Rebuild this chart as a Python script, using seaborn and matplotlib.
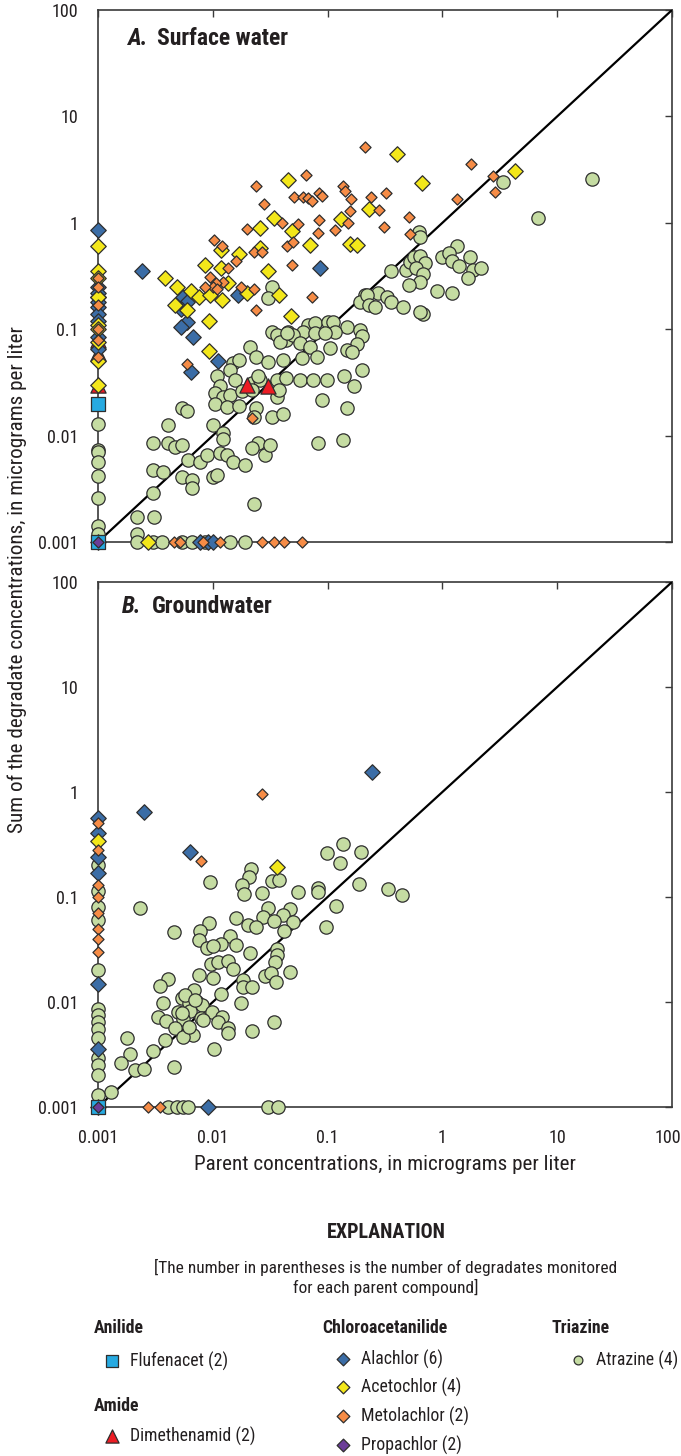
import matplotlib
matplotlib.use("Agg")
import matplotlib.pyplot as plt
from matplotlib import font_manager as fm
from matplotlib.transforms import ScaledTranslation
import pandas as pd
import seaborn as sns

# ---------------------------------------------------------------------------
# Parent concentration vs. sum of degradate concentrations (micrograms per liter)
# Non-detects are plotted at the 0.001 reporting floor.
# ---------------------------------------------------------------------------

# ---- A. Surface water ------------------------------------------------------
sw_atrazine = [
    (20, 2.6), (6.8, 1.1), (3.4, 2.4), (0.63, 0.82), (0.64, 0.74), (1.34, 0.6),
    (1.0, 0.48), (1.14, 0.52), (1.21, 0.44), (1.4, 0.39), (1.74, 0.48), (1.85, 0.36),
    (2.17, 0.38), (1.67, 0.30), (0.9, 0.23), (1.21, 0.22), (0.36, 0.35), (0.48, 0.36),
    (0.52, 0.43), (0.57, 0.48), (0.64, 0.49), (0.71, 0.42), (0.59, 0.38), (0.68, 0.33),
    (0.64, 0.28), (0.51, 0.26), (0.275, 0.22), (0.33, 0.2), (0.21, 0.21),
    (0.19, 0.18), (0.22, 0.21), (0.36, 0.18), (0.23, 0.17), (0.26, 0.16), (0.45, 0.16),
    (0.68, 0.14), (0.148, 0.105), (0.19, 0.098), (0.2, 0.086), (0.18, 0.073),
    (0.148, 0.064), (0.163, 0.061), (0.14, 0.036), (0.2, 0.041), (0.17, 0.029),
    (0.148, 0.018), (0.136, 0.009), (0.64, 0.145),
    (0.0675, 0.11), (0.078, 0.114), (0.1, 0.117), (0.111, 0.117), (0.033, 0.25),
    (0.030, 0.196), (0.033, 0.094), (0.036, 0.088), (0.045, 0.094), (0.061, 0.094),
    (0.078, 0.092), (0.116, 0.094),
    (0.043, 0.079), (0.05, 0.088), (0.0575, 0.074), (0.07, 0.068), (0.105, 0.067),
    (0.021, 0.068), (0.024, 0.055), (0.030, 0.049), (0.041, 0.051), (0.06, 0.054),
    (0.081, 0.055), (0.015, 0.048), (0.017, 0.051), (0.014, 0.041), (0.0156, 0.033),
    (0.0109, 0.036), (0.0116, 0.029), (0.0105, 0.025), (0.0123, 0.023), (0.014, 0.024),
    (0.022, 0.031), (0.026, 0.033), (0.036, 0.033), (0.043, 0.035), (0.0575, 0.033),
    (0.075, 0.033), (0.099, 0.033), (0.089, 0.0216), (0.0105, 0.020), (0.0133, 0.0186),
    (0.017, 0.019), (0.024, 0.018), (0.033, 0.015), (0.041, 0.016), (0.0054, 0.018),
    (0.006, 0.017), (0.0041, 0.0126), (0.01, 0.0126), (0.0123, 0.0106), (0.003, 0.0085),
    (0.0041, 0.0085), (0.0047, 0.0078), (0.0054, 0.0082), (0.0061, 0.0059),
    (0.0077, 0.0056), (0.0089, 0.0066), (0.0116, 0.0069), (0.0133, 0.0066),
    (0.015, 0.0056), (0.019, 0.0053), (0.025, 0.0085), (0.0285, 0.0066),
    (0.0315, 0.0082), (0.0825, 0.0085), (0.003, 0.0047), (0.0037, 0.0045),
    (0.0054, 0.0041), (0.0066, 0.0038), (0.0066, 0.0032), (0.01, 0.0041),
    (0.0109, 0.0043), (0.003, 0.0029), (0.023, 0.0023), (0.0022, 0.0017),
    (0.0031, 0.0017), (0.0022, 0.0012),
    (0.0385, 0.076), (0.044, 0.092), (0.095, 0.092), (0.025, 0.036), (0.018, 0.026),
    (0.022, 0.027), (0.023, 0.015), (0.036, 0.023), (0.038, 0.027), (0.0123, 0.0093),
    (0.022, 0.0076),
    # parent not detected
    (0.001, 0.0128), (0.001, 0.0074), (0.001, 0.007), (0.001, 0.0056), (0.001, 0.0042),
    (0.001, 0.0026), (0.001, 0.0014), (0.001, 0.0012),
    # degradates not detected
    (0.0022, 0.001), (0.003, 0.001), (0.0036, 0.001), (0.0054, 0.001), (0.0066, 0.001),
    (0.0086, 0.001), (0.0141, 0.001), (0.019, 0.001),
]
sw_alachlor = [
    (0.0024, 0.35), (0.086, 0.38), (0.0166, 0.21), (0.0055, 0.2), (0.006, 0.18),
    (0.0053, 0.155), (0.006, 0.117), (0.0053, 0.104), (0.0067, 0.084), (0.011, 0.05),
    (0.0064, 0.04),
    (0.001, 0.85), (0.001, 0.25), (0.001, 0.22), (0.001, 0.2), (0.001, 0.18),
    (0.001, 0.16), (0.001, 0.14), (0.001, 0.12), (0.001, 0.085), (0.001, 0.065),
    (0.001, 0.001),
    (0.0077, 0.001), (0.009, 0.001), (0.01, 0.001),
]
sw_acetochlor = [
    (0.40, 4.4), (0.045, 2.5), (0.66, 2.35), (0.034, 1.1), (0.026, 0.9), (0.049, 0.84),
    (0.13, 1.09), (0.23, 1.35), (0.07, 0.62), (0.157, 0.63), (0.18, 0.62),
    (0.0117, 0.55), (0.017, 0.51), (0.026, 0.58), (0.0085, 0.4), (0.0117, 0.38),
    (0.030, 0.35), (0.0038, 0.3), (0.0049, 0.25), (0.0065, 0.23), (0.0076, 0.2),
    (0.0095, 0.21), (0.012, 0.19), (0.0135, 0.27), (0.02, 0.22), (0.038, 0.21),
    (0.0047, 0.17), (0.006, 0.15), (0.0093, 0.12), (0.048, 0.133), (0.0092, 0.062),
    (4.3, 3.07),
    (0.001, 0.6), (0.001, 0.35), (0.001, 0.3), (0.001, 0.2), (0.001, 0.11),
    (0.001, 0.1), (0.001, 0.075), (0.001, 0.05), (0.001, 0.03),
    (0.0027, 0.001),
]
sw_metolachlor = [
    (0.21, 5.2), (0.065, 2.8), (0.024, 2.2), (0.136, 2.2), (0.051, 1.75), (0.061, 1.75),
    (0.067, 1.7), (0.073, 1.6), (0.085, 1.9), (0.09, 1.8), (0.142, 2.0), (0.16, 1.66),
    (0.24, 1.75), (0.32, 1.9), (0.028, 1.5), (0.084, 1.07), (0.055, 0.98), (0.04, 1.0),
    (0.15, 1.0), (0.157, 1.28), (0.28, 1.32), (0.51, 1.13), (0.116, 0.86), (0.082, 0.8),
    (0.31, 0.91), (0.52, 0.79), (0.02, 0.87), (0.0102, 0.69), (0.012, 0.6), (0.044, 0.6),
    (0.05, 0.66), (0.023, 0.53), (0.027, 0.53), (0.016, 0.44), (0.0135, 0.38),
    (0.049, 0.4), (0.0095, 0.31), (0.0123, 0.28), (0.0106, 0.27), (0.01, 0.25),
    (0.0085, 0.25), (0.0176, 0.25), (0.023, 0.24), (0.0108, 0.24), (0.073, 0.2),
    (0.024, 0.15), (0.006, 0.047), (0.022, 0.0145), (1.77, 3.6), (2.75, 2.75),
    (2.9, 1.95), (1.34, 1.67),
    (0.001, 0.3), (0.001, 0.25), (0.001, 0.17), (0.001, 0.1), (0.001, 0.08),
    (0.001, 0.055),
    (0.0046, 0.001), (0.0052, 0.001), (0.0082, 0.001), (0.0115, 0.001), (0.027, 0.001),
    (0.034, 0.001), (0.042, 0.001), (0.06, 0.001),
]
sw_dimethenamid = [(0.020, 0.030), (0.030, 0.029), (0.001, 0.08), (0.001, 0.06), (0.001, 0.03)]
sw_flufenacet = [(0.001, 0.02), (0.001, 0.001)]
sw_propachlor = [(0.001, 0.001)]

# ---- B. Groundwater ----------------------------------------------------------
gw_atrazine = [
    (0.136, 0.32), (0.099, 0.26), (0.196, 0.27), (0.127, 0.21), (0.0215, 0.185),
    (0.0207, 0.155), (0.018, 0.13), (0.0187, 0.107), (0.0328, 0.142), (0.0377, 0.145),
    (0.0268, 0.109), (0.0094, 0.139), (0.055, 0.112), (0.0825, 0.122), (0.0825, 0.112),
    (0.188, 0.133), (0.336, 0.119), (0.445, 0.104), (0.118, 0.082), (0.097, 0.052),
    (0.0023, 0.078), (0.0303, 0.078), (0.0273, 0.065), (0.047, 0.077), (0.041, 0.067),
    (0.05, 0.058), (0.034, 0.059), (0.0418, 0.047), (0.0203, 0.054), (0.0239, 0.052),
    (0.0159, 0.063), (0.0093, 0.056), (0.0046, 0.046), (0.0077, 0.047), (0.0076, 0.039),
    (0.0141, 0.0425), (0.0118, 0.0357), (0.0159, 0.035), (0.0089, 0.0327), (0.01, 0.034),
    (0.021, 0.029), (0.0362, 0.032), (0.0362, 0.028), (0.0348, 0.024), (0.0096, 0.023),
    (0.0111, 0.024), (0.0136, 0.0246), (0.015, 0.0206), (0.047, 0.0193), (0.0285, 0.0177),
    (0.032, 0.0189), (0.0355, 0.0155), (0.0076, 0.018), (0.01, 0.0169), (0.0041, 0.0166),
    (0.0035, 0.0142), (0.0183, 0.0162), (0.0183, 0.0139), (0.0219, 0.0139),
    (0.0069, 0.013), (0.0118, 0.0119), (0.0176, 0.0098), (0.0037, 0.0098),
    (0.0054, 0.0109), (0.0062, 0.0098), (0.0073, 0.01), (0.008, 0.0094), (0.005, 0.008),
    (0.0063, 0.0082), (0.0079, 0.007), (0.0098, 0.008), (0.012, 0.0072), (0.0111, 0.0065),
    (0.0055, 0.0069), (0.0033, 0.0072), (0.0039, 0.0066), (0.0047, 0.0056),
    (0.0067, 0.0049), (0.0055, 0.0046), (0.0038, 0.0043), (0.0136, 0.0056),
    (0.0136, 0.0051), (0.0219, 0.0053), (0.0341, 0.0065), (0.0102, 0.0036),
    (0.003, 0.0034), (0.0018, 0.0045), (0.0019, 0.0032), (0.0016, 0.0026),
    (0.0021, 0.00225), (0.0025, 0.0023), (0.0046, 0.0024), (0.0013, 0.0014),
    (0.0057, 0.0117), (0.007, 0.0104), (0.0054, 0.0078), (0.0062, 0.0058), (0.0082, 0.0067),
    (0.001, 0.2), (0.001, 0.115), (0.001, 0.08), (0.001, 0.06), (0.001, 0.02),
    (0.001, 0.0085), (0.001, 0.0075), (0.001, 0.0065), (0.001, 0.0055), (0.001, 0.0045),
    (0.001, 0.0029), (0.001, 0.0025), (0.001, 0.002), (0.001, 0.0013),
    (0.0041, 0.001), (0.0049, 0.001), (0.0055, 0.001), (0.0061, 0.001), (0.030, 0.001),
    (0.037, 0.001),
]
gw_alachlor = [
    (0.244, 1.55), (0.0025, 0.645), (0.0063, 0.27), (0.0091, 0.001),
    (0.001, 0.565), (0.001, 0.41), (0.001, 0.24), (0.001, 0.17), (0.001, 0.015),
    (0.001, 0.0036), (0.001, 0.001),
]
gw_acetochlor = [(0.036, 0.193), (0.001, 0.34)]
gw_metolachlor = [
    (0.027, 0.96), (0.0079, 0.22), (0.0027, 0.001), (0.0035, 0.001),
    (0.001, 0.51), (0.001, 0.28), (0.001, 0.13), (0.001, 0.1), (0.001, 0.07),
    (0.001, 0.05), (0.001, 0.04), (0.001, 0.03),
]
gw_dimethenamid = []
gw_flufenacet = [(0.001, 0.001)]
gw_propachlor = [(0.001, 0.001)]

ticks = [0.001, 0.01, 0.1, 1, 10, 100]
tick_labels = ["0.001", "0.01", "0.1", "1", "10", "100"]

# ---- marker styles per parent compound (draw order = list order) --------------
EDGE = "#2e2e2e"
styles = {
    "Atrazine":     dict(marker="o", s=92,  color="#c5dca2"),
    "Dimethenamid": dict(marker="^", s=120, color="#ec1c24"),
    "Alachlor":     dict(marker="D", s=62,  color="#3b6da6"),
    "Acetochlor":   dict(marker="D", s=62,  color="#f3e71a"),
    "Metolachlor":  dict(marker="D", s=32,  color="#f68c46"),
    "Flufenacet":   dict(marker="s", s=115, color="#27aae1"),
    "Propachlor":   dict(marker="D", s=32,  color="#6b3d98"),
}

panels = {
    "A": {"Atrazine": sw_atrazine, "Alachlor": sw_alachlor, "Acetochlor": sw_acetochlor,
          "Metolachlor": sw_metolachlor, "Dimethenamid": sw_dimethenamid,
          "Flufenacet": sw_flufenacet, "Propachlor": sw_propachlor},
    "B": {"Atrazine": gw_atrazine, "Alachlor": gw_alachlor, "Acetochlor": gw_acetochlor,
          "Metolachlor": gw_metolachlor, "Dimethenamid": gw_dimethenamid,
          "Flufenacet": gw_flufenacet, "Propachlor": gw_propachlor},
}

rows = []
for panel, series in panels.items():
    for compound, pairs in series.items():
        for parent, degr in pairs:
            rows.append({"panel": panel, "compound": compound,
                         "parent": parent, "degradates": degr})
df = pd.DataFrame(rows)

sns.set_theme(style="white")

# prefer a narrow sans face when one is installed
entries_fm = fm.fontManager.ttflist
names = {f.name for f in entries_fm}
family, stretch = "DejaVu Sans", "normal"
narrow_names = [n for n in ["Liberation Sans Narrow", "Roboto Condensed", "Open Sans Condensed",
                            "Noto Sans Condensed", "Arial Narrow"] if n in names]
if narrow_names:
    family = narrow_names[0]
elif any(f.name == "DejaVu Sans" and str(f.stretch) != "normal" for f in entries_fm):
    family, stretch = "DejaVu Sans", "condensed"
elif any(f.name == "Noto Sans" and str(f.stretch) != "normal" for f in entries_fm):
    family, stretch = "Noto Sans", "condensed"
elif "Roboto" in names:
    family = "Roboto"
plt.rcParams["font.family"] = [family, "DejaVu Sans"]
plt.rcParams["font.stretch"] = stretch
plt.rcParams["text.color"] = "#231f20"

W, H = 681, 1456
fig = plt.figure(figsize=(W / 100, H / 100), dpi=100)


def frac_box(x0, y0, x1, y1):
    return [x0 / W, 1 - y1 / H, (x1 - x0) / W, (y1 - y0) / H]


ax_a = fig.add_axes(frac_box(98, 10, 672, 542))
ax_b = fig.add_axes(frac_box(98, 582, 672, 1107))

for ax, panel in [(ax_a, "A"), (ax_b, "B")]:
    ax.set_xscale("log")
    ax.set_yscale("log")
    # 1:1 line
    ax.plot([0.001, 100], [0.001, 100], color="black", lw=1.6, zorder=2)
    sub = df[df["panel"] == panel]
    for compound, st in styles.items():
        d = sub[sub["compound"] == compound]
        if d.empty:
            continue
        sns.scatterplot(data=d, x="parent", y="degradates", ax=ax,
                        marker=st["marker"], s=st["s"], color=st["color"],
                        edgecolor=EDGE, linewidth=0.9, clip_on=False, zorder=3,
                        legend=False)
    ax.set_xlim(0.001, 100)
    ax.set_ylim(0.001, 100)
    ax.set_xticks(ticks)
    ax.set_yticks(ticks)
    ax.minorticks_off()
    ax.set_yticklabels(tick_labels)
    ax.tick_params(which="major", direction="in", length=5, width=1.0,
                   color="#3a3a3a", top=True, right=True, labelsize=13,
                   pad=14, labelcolor="#231f20")
    ax.set_xlabel("")
    ax.set_ylabel("")
    for sp in ax.spines.values():
        sp.set_color("#3a3a3a")
        sp.set_linewidth(1.2)
        sp.set_zorder(1)

ax_a.set_xticklabels([])
ax_b.set_xticklabels(tick_labels)
ax_b.tick_params(axis="x", pad=16)
# keep the last bottom label inside the figure edge
last = ax_b.get_xticklabels()[-1]
last.set_transform(last.get_transform() + ScaledTranslation(-3 / 72, 0, fig.dpi_scale_trans))

# panel titles
fig.text(127 / W, 1 - 45 / H, "A.", fontsize=17, fontweight="bold", style="italic", va="baseline")
fig.text(157 / W, 1 - 45 / H, "Surface water", fontsize=17, fontweight="bold", va="baseline")
fig.text(122 / W, 1 - 613 / H, "B.", fontsize=17, fontweight="bold", style="italic", va="baseline")
fig.text(152 / W, 1 - 613 / H, "Groundwater", fontsize=17, fontweight="bold", va="baseline")

# axis titles
fig.text(385 / W, 1 - 1164 / H, "Parent concentrations, in micrograms per liter",
         fontsize=15.2, ha="center", va="center")
fig.text(17 / W, 1 - 580 / H,
         "Sum of the degradate concentrations, in micrograms per liter",
         fontsize=15.2, ha="center", va="center", rotation=90)

# ---- explanation block ---------------------------------------------------------
leg = fig.add_axes([0, 0, 1, 1])
leg.set_xlim(0, W)
leg.set_ylim(H, 0)
leg.axis("off")
leg.patch.set_alpha(0)

leg.text(386, 1232, "EXPLANATION", fontsize=14.5, fontweight="bold", ha="center", va="center")
leg.text(386, 1267, "[The number in parentheses is the number of degradates monitored",
         fontsize=12.5, ha="center", va="center")
leg.text(386, 1287, "for each parent compound]", fontsize=12.5, ha="center", va="center")

groups = [("Anilide", 94, 1328), ("Chloroacetanilide", 322, 1328),
          ("Triazine", 551, 1328), ("Amide", 94, 1406)]
for name, gx, gy in groups:
    leg.text(gx, gy, name, fontsize=12.8, fontweight="bold", ha="left", va="center")

entries = [
    ("Flufenacet (2)", "Flufenacet", 112, 1361, 80),
    ("Dimethenamid (2)", "Dimethenamid", 112, 1436, 90),
    ("Alachlor (6)", "Alachlor", 343, 1359, 42),
    ("Acetochlor (4)", "Acetochlor", 343, 1387, 42),
    ("Metolachlor (2)", "Metolachlor", 343, 1416, 42),
    ("Propachlor (2)", "Propachlor", 343, 1445, 42),
    ("Atrazine (4)", "Atrazine", 578, 1360, 40),
]
for label, key, ix, iy, size in entries:
    st = styles[key]
    leg.scatter([ix], [iy], marker=st["marker"], s=size, color=st["color"],
                edgecolor=EDGE, linewidth=0.9, clip_on=False)
    leg.text(ix + 18, iy, label, fontsize=12.8, ha="left", va="center")

fig.savefig("out.png", dpi=100)
